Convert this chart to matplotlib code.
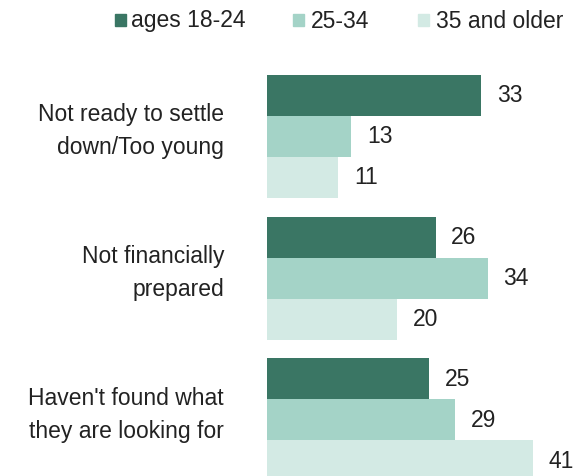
import matplotlib.pyplot as plt
from matplotlib.patches import Rectangle

# Data
reasons = ["Not ready to settle\ndown/Too young",
           "Not financially\nprepared",
           "Haven't found what\nthey are looking for"]
series_names = ["ages 18-24", "25-34", "35 and older"]
ages_18_24 = [33, 26, 25]
ages_25_34 = [13, 34, 29]
ages_35_up = [11, 20, 41]
colors = ["#3a7664", "#a4d3c7", "#d3eae4"]

plt.rcParams['font.family'] = ['Liberation Sans', 'DejaVu Sans']
FS = 16.5
TXT = "#222222"

W, H = 584, 477
fig = plt.figure(figsize=(W / 100, H / 100), dpi=100)

# axes in px-like units: x px per unit = 6.49, bar height = 41 px
px_per_unit = 6.49
x0 = 267
ax = fig.add_axes([x0 / W, 0, 1 - x0 / W, 1])
ax.set_xlim(0, (W - x0) / px_per_unit)
ax.set_ylim(H / 41, 0)
ax.axis("off")

first_center = 96 / 41
group_step = 142 / 41
all_series = [ages_18_24, ages_25_34, ages_35_up]
for g in range(len(reasons)):
    for s, vals in enumerate(all_series):
        y = first_center + g * group_step + s
        ax.barh(y, vals[g], height=1.0, color=colors[s], edgecolor="none")
        ax.text(vals[g] + 2.4, y, str(vals[g]), va="center", ha="left",
                fontsize=FS, color=TXT)
    yc = first_center + g * group_step + 0.85
    fig.text(224 / W, 1 - (yc * 41) / H, reasons[g], ha="right", va="center",
             fontsize=FS, color=TXT, linespacing=1.55)

# Legend
leg_y = 1 - 21 / H
leg_items = [(115, 131), (293, 311), (418, 436)]
for (sx, tx), name, c in zip(leg_items, series_names, colors):
    fig.patches.append(Rectangle((sx / W, leg_y - 6 / H), 11 / W, 12 / H,
                                 transform=fig.transFigure, color=c))
    fig.text(tx / W, leg_y, name, ha="left", va="center", fontsize=FS,
             color=TXT)

fig.savefig("out.png", dpi=100)
